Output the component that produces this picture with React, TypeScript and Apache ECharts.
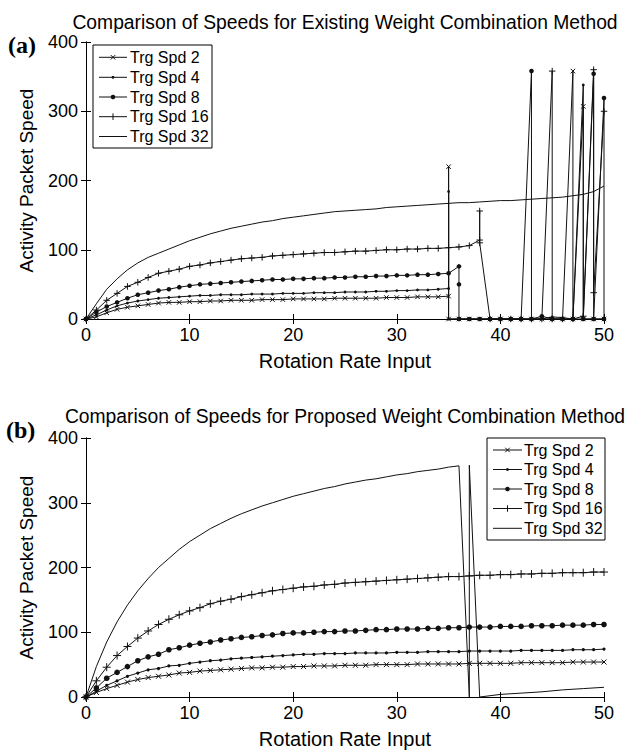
import React, { useEffect, useRef } from "react";
import * as echarts from "echarts";

// ---------- data ----------
const names = ["Trg Spd 2", "Trg Spd 4", "Trg Spd 8", "Trg Spd 16", "Trg Spd 32"];
const xTicks = [0, 10, 20, 30, 40, 50];
const yTicks = [0, 100, 200, 300, 400];

// (a) existing method: smooth part (x = 0,1,2,...) and irregular tail points [x, y]
const aSpd2 = [0, 3, 9, 14, 17, 19, 21, 23, 24, 24, 25, 25, 26, 26, 27, 27, 27, 28, 28, 28, 29, 29, 29, 29, 30, 30, 30, 30, 30, 31, 31, 31, 32, 32, 32, 33];
const aSpd2Tail = [[35, 220], [35, 0], [36, 0], [37, 0], [38, 0], [39, 0], [40, 0], [41, 0], [42, 0], [43, 0], [44, 0], [45, 0], [46, 0], [47, 358], [47, 0], [48, 307], [48, 0], [49, 0], [50, 0]];
const aSpd4 = [0, 6, 13, 19, 23, 26, 28, 30, 31, 32, 33, 34, 34, 35, 35, 35, 36, 36, 36, 37, 37, 37, 38, 38, 38, 39, 39, 39, 40, 40, 41, 41, 42, 42, 43, 44];
const aSpd4Tail = [[35, 184], [35, 0], [36, 0], [37, 0], [38, 0], [39, 0], [40, 0], [41, 0], [42, 0], [43, 0], [44, 0], [45, 3], [46, 2], [47, 0], [48, 338], [48, 0], [49, 0], [50, 0]];
const aSpd8 = [0, 10, 18, 24, 30, 35, 38, 41, 43, 46, 48, 50, 51, 52, 53, 54, 55, 56, 57, 57, 58, 58, 59, 59, 60, 60, 61, 61, 62, 62, 63, 63, 64, 64, 65, 66];
const aSpd8Tail = [[36, 76], [36, 50], [36, 0], [37, 0], [38, 0], [39, 0], [40, 0], [41, 0], [42, 0], [43, 358], [43, 0], [44, 4], [45, 0], [46, 0], [47, 0], [48, 0], [49, 354], [49, 0], [50, 319], [50, 0]];
const aSpd16 = [0, 13, 27, 37, 47, 53, 60, 66, 69, 72, 76, 78, 81, 83, 85, 87, 88, 89, 91, 92, 93, 94, 95, 96, 96, 97, 98, 98, 99, 100, 100, 101, 101, 102, 102, 103, 104, 106];
const aSpd16Tail = [[38, 114], [38, 156], [38, 110], [39, 0], [40, 0], [41, 0], [42, 0], [43, 0], [44, 0], [45, 358], [45, 0], [46, 0], [47, 0], [48, 4], [49, 360], [49, 38], [50, 300]];
const aSpd32 = [0, 22, 43, 58, 71, 81, 89, 95, 101, 107, 113, 118, 123, 127, 131, 134, 137, 140, 142, 145, 147, 149, 151, 153, 155, 156, 157, 158, 159, 161, 162, 163, 164, 165, 166, 167, 168, 168, 169, 170, 171, 171, 172, 173, 174, 175, 176, 178, 180, 184, 192];

// (b) proposed method
const bSpd2 = [0, 7, 13, 18, 23, 27, 30, 32, 34, 37, 38, 40, 41, 42, 43, 44, 45, 45, 46, 46, 47, 47, 48, 48, 48, 49, 49, 49, 50, 50, 50, 50, 51, 51, 51, 51, 51, 52, 52, 52, 52, 52, 53, 53, 53, 53, 53, 54, 54, 54, 54];
const bSpd4 = [0, 9, 18, 25, 32, 37, 42, 44, 48, 49, 52, 54, 56, 57, 59, 60, 61, 62, 63, 64, 65, 66, 66, 67, 67, 67, 68, 68, 68, 68, 69, 69, 69, 70, 70, 70, 70, 71, 71, 71, 71, 71, 72, 72, 72, 72, 72, 73, 73, 73, 74];
const bSpd8 = [0, 14, 29, 38, 47, 56, 62, 66, 73, 76, 80, 83, 85, 88, 90, 92, 93, 95, 96, 98, 99, 99, 100, 101, 101, 102, 102, 103, 104, 104, 105, 105, 105, 106, 106, 107, 107, 108, 108, 108, 109, 109, 109, 110, 110, 110, 111, 111, 111, 112, 112];
const bSpd16 = [0, 25, 46, 64, 78, 91, 102, 112, 120, 127, 133, 138, 144, 148, 151, 155, 158, 161, 164, 166, 168, 170, 171, 173, 174, 176, 177, 178, 179, 180, 181, 182, 183, 184, 185, 186, 186, 187, 188, 188, 189, 189, 190, 190, 191, 191, 192, 192, 192, 193, 193];
const bSpd32 = [0, 47, 85, 116, 142, 164, 183, 200, 214, 228, 240, 250, 260, 268, 276, 283, 289, 295, 300, 305, 310, 314, 318, 322, 325, 329, 332, 335, 337, 340, 343, 345, 348, 350, 352, 355, 357];
const bSpd32Tail = [[37, 0], [37, 358], [38, 0], [39, 2], [40, 4], [42, 6], [44, 8], [46, 11], [48, 13], [50, 15]];

// ---------- helpers ----------
const FONT = "'Liberation Sans', Arial, sans-serif";
const INK = "#111";
const SYM_X = "path://M0,0L10,10M10,0L0,10";
const SYM_PLUS = "path://M5,0L5,10M0,5L10,5";

const pts = (ys: number[], tail: number[][] = []) => ys.map((y, i) => [i, y]).concat(tail);

// marker sizes per series: [x, small dot, big dot, plus]
const markSmall = [4.5, 2.8, 4.6, 6.5];
const markBig = [5, 3.2, 5.6, 8];

const mkSeries = (name: string, idx: number, data: number[][], axis: number, sizes: number[]) => {
  const sym = [SYM_X, "circle", "circle", SYM_PLUS, "none"][idx];
  const isPath = idx === 0 || idx === 3;
  return {
    type: "line",
    name,
    xAxisIndex: axis,
    yAxisIndex: axis,
    data,
    symbol: sym,
    symbolSize: idx === 4 ? 0 : sizes[idx],
    showSymbol: idx !== 4,
    showAllSymbol: true,
    lineStyle: { color: INK, width: 1 },
    itemStyle: { color: INK, borderColor: INK, borderWidth: isPath ? 1 : 0 },
    emphasis: { disabled: true },
    z: idx === 4 ? 3 : 2,
  };
};

const tickStyle = { show: true, inside: true, length: 5, lineStyle: { color: "#000" } };
const lineStyleAxis = { show: true, lineStyle: { color: "#000", width: 1 } };

const mainX = (grid: number) => ({
  type: "value",
  gridIndex: grid,
  min: 0,
  max: 50,
  interval: 10,
  name: "Rotation Rate Input",
  nameLocation: "middle",
  nameGap: 32,
  nameTextStyle: { fontFamily: FONT, fontSize: 20, color: "#000" },
  axisLine: lineStyleAxis,
  axisTick: tickStyle,
  axisLabel: {
    fontFamily: FONT,
    fontSize: 18,
    color: "#000",
    margin: 7,
    formatter: (v: number) => (xTicks.includes(v) ? String(v) : ""),
  },
  splitLine: { show: false },
});
const topX = (grid: number) => ({
  type: "value",
  gridIndex: grid,
  position: "top",
  min: 0,
  max: 50,
  interval: 10,
  axisLine: lineStyleAxis,
  axisTick: tickStyle,
  axisLabel: { show: false },
  splitLine: { show: false },
});
const mainY = (grid: number) => ({
  type: "value",
  gridIndex: grid,
  min: 0,
  max: 400,
  interval: 100,
  name: "Activity Packet Speed",
  nameLocation: "middle",
  nameGap: 50,
  nameTextStyle: { fontFamily: FONT, fontSize: 19, color: "#000" },
  axisLine: lineStyleAxis,
  axisTick: tickStyle,
  axisLabel: {
    fontFamily: FONT,
    fontSize: 18,
    color: "#000",
    margin: 8,
    formatter: (v: number) => (yTicks.includes(v) ? String(v) : ""),
  },
  splitLine: { show: false },
});
const rightY = (grid: number) => ({
  type: "value",
  gridIndex: grid,
  position: "right",
  min: 0,
  max: 400,
  interval: 100,
  axisLine: lineStyleAxis,
  axisTick: tickStyle,
  axisLabel: { show: false },
  splitLine: { show: false },
});

// legend drawn as graphic elements (box, sample line, marker, label)
const legendBox = (
  x: number,
  y: number,
  w: number,
  h: number,
  lineX1: number,
  lineX2: number,
  textX: number,
  rows: number[],
  sizes: number[]
) => {
  const els: any[] = [
    { type: "rect", shape: { x, y, width: w, height: h }, style: { fill: "#fff", stroke: "#000", lineWidth: 1 }, z: 20 },
  ];
  const cx = (lineX1 + lineX2) / 2;
  names.forEach((n, i) => {
    const cy = rows[i];
    els.push({
      type: "line",
      shape: { x1: lineX1, y1: cy, x2: lineX2, y2: cy },
      style: { stroke: INK, lineWidth: 1 },
      z: 21,
    });
    const s = sizes[i] / 2;
    if (i === 0) {
      els.push({ type: "line", shape: { x1: cx - s, y1: cy - s, x2: cx + s, y2: cy + s }, style: { stroke: INK, lineWidth: 1 }, z: 22 });
      els.push({ type: "line", shape: { x1: cx - s, y1: cy + s, x2: cx + s, y2: cy - s }, style: { stroke: INK, lineWidth: 1 }, z: 22 });
    } else if (i === 1 || i === 2) {
      els.push({ type: "circle", shape: { cx, cy, r: s }, style: { fill: INK }, z: 22 });
    } else if (i === 3) {
      els.push({ type: "line", shape: { x1: cx, y1: cy - s, x2: cx, y2: cy + s }, style: { stroke: INK, lineWidth: 1 }, z: 22 });
    }
    els.push({
      type: "text",
      x: textX,
      y: cy,
      style: { text: n, fontFamily: FONT, fontSize: 16, fill: "#000", align: "left", verticalAlign: "middle" },
      z: 22,
    });
  });
  return els;
};

const textEl = (text: string, x: number, y: number, font: any) => ({
  type: "text",
  x,
  y,
  z: 20,
  style: { text, fill: "#000", verticalAlign: "middle", ...font },
});

export default function App() {
  const ref = useRef<HTMLDivElement>(null);
  useEffect(() => {
    if (!ref.current) return;
    const chart = echarts.init(ref.current, undefined, { renderer: "svg" });
    const aData = [pts(aSpd2, aSpd2Tail), pts(aSpd4, aSpd4Tail), pts(aSpd8, aSpd8Tail), pts(aSpd16, aSpd16Tail), pts(aSpd32)];
    const bData = [pts(bSpd2), pts(bSpd4), pts(bSpd8), pts(bSpd16), pts(bSpd32, bSpd32Tail)];
    const serifBold = { fontFamily: "'Liberation Serif', 'Times New Roman', serif", fontWeight: "bold", fontSize: 24, align: "left" };
    const titleFont = { fontFamily: FONT, fontSize: 19.3, align: "center" };
    const option = {
      animation: false,
      backgroundColor: "#fff",
      grid: [
        { left: 86, top: 42, width: 518, height: 277, show: false },
        { left: 86, top: 438, width: 518, height: 259, show: false },
      ],
      xAxis: [mainX(0), topX(0), mainX(1), topX(1)],
      yAxis: [mainY(0), rightY(0), mainY(1), rightY(1)],
      series: [
        ...aData.map((d, i) => mkSeries(names[i], i, d, 0, markSmall)),
        ...bData.map((d, i) => mkSeries(names[i], i, d, 2, markBig)),
      ],
      graphic: [
        textEl("Comparison of Speeds for Existing Weight Combination Method", 345, 22, titleFont),
        textEl("Comparison of Speeds for Proposed Weight Combination Method", 345, 416, titleFont),
        textEl("(a)", 8, 45, serifBold),
        textEl("(b)", 6, 430, serifBold),
        ...legendBox(93, 45, 119, 103, 99, 127, 130, [57.3, 77.3, 97, 116.7, 136.5], markSmall),
        ...legendBox(487, 438, 118, 102, 493, 522, 524, [450, 469.5, 489, 508.5, 528.3], markSmall),
      ],
    };
    chart.setOption(option as any);
    return () => chart.dispose();
  }, []);
  return (
    <div
      ref={ref}
      style={{ position: "fixed", left: 0, top: 0, width: 629, height: 752, background: "#fff" }}
    />
  );
}
